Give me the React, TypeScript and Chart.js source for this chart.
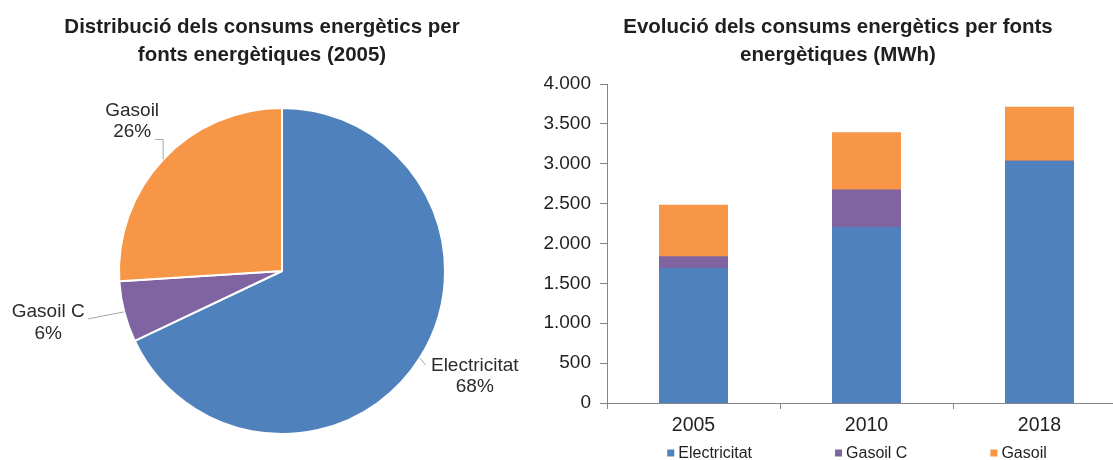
import React, { useEffect, useRef } from 'react';
import { Chart, registerables } from 'chart.js';

Chart.register(...registerables);

// ---------- data ----------
const years = ['2005', '2010', '2018'];
const seriesNames = ['Electricitat', 'Gasoil C', 'Gasoil'];
const electricitat = [1685, 2200, 3030];
const gasoilC = [150, 470, 0];
const gasoil = [645, 720, 680];
const seriesColors = ['#4F81BD', '#8064A2', '#F79646'];
const yMin = 0;
const yMax = 4000;
const yStep = 500;
const pieYearIndex = 0; // pie shows 2005
const pieTitle = ['Distribució dels consums energètics per', 'fonts energètiques (2005)'];
const barTitle = ['Evolució dels consums energètics per fonts', 'energètiques (MWh)'];

const FONT = "'Liberation Sans', Arial, Helvetica, sans-serif";
const AXIS_COLOR = '#868686';
const TEXT_COLOR = '#1f1f1f';

const formatThousands = (v: number) =>
  String(Math.round(v)).replace(/\B(?=(\d{3})+(?!\d))/g, '.');

// ---------- plugins ----------
function makeHeadline(lines: string[], x: number, y: number, lineHeight: number, size: number) {
  return {
    id: 'headline',
    afterDraw(chart: any) {
      const ctx = chart.ctx;
      ctx.save();
      ctx.font = `bold ${size}px ${FONT}`;
      ctx.fillStyle = TEXT_COLOR;
      ctx.textAlign = 'center';
      ctx.textBaseline = 'alphabetic';
      lines.forEach((l, i) => ctx.fillText(l, x, y + i * lineHeight));
      ctx.restore();
    },
  };
}

type Placement = { dx: number; dy: number; leader: number[][] };

function makePieLabels(placements: Placement[], size: number, lineGap: number) {
  return {
    id: 'pieLabels',
    afterDatasetsDraw(chart: any) {
      const ctx = chart.ctx;
      const meta = chart.getDatasetMeta(0);
      const values: number[] = chart.data.datasets[0].data;
      const labels: string[] = chart.data.labels;
      const total = values.reduce((a, b) => a + b, 0);
      ctx.save();
      meta.data.forEach((arc: any, i: number) => {
        const p = placements[i];
        if (!p) return;
        const { x, y, startAngle, endAngle, outerRadius } = arc.getProps(
          ['x', 'y', 'startAngle', 'endAngle', 'outerRadius'],
          true
        );
        const mid = (startAngle + endAngle) / 2;
        const ex = x + Math.cos(mid) * outerRadius;
        const ey = y + Math.sin(mid) * outerRadius;
        ctx.strokeStyle = '#a6a6a6';
        ctx.lineWidth = 1;
        ctx.beginPath();
        ctx.moveTo(ex, ey);
        p.leader.forEach(([lx, ly]) => ctx.lineTo(ex + lx, ey + ly));
        ctx.stroke();
        const cx = ex + p.dx;
        const cy = ey + p.dy;
        ctx.font = `${size}px ${FONT}`;
        ctx.fillStyle = '#2b2b2b';
        ctx.textAlign = 'center';
        ctx.textBaseline = 'middle';
        const pct = Math.round((values[i] / total) * 100) + '%';
        ctx.fillText(labels[i], cx, cy - lineGap / 2);
        ctx.fillText(pct, cx, cy + lineGap / 2);
      });
      ctx.restore();
    },
  };
}

function makeLegend(cx: number, cy: number, size: number, box: number, gap: number, spacing: number) {
  return {
    id: 'customLegend',
    afterDraw(chart: any) {
      const ctx = chart.ctx;
      ctx.save();
      ctx.font = `${size}px ${FONT}`;
      const items = chart.data.datasets.map((d: any) => ({ text: d.label, color: d.backgroundColor }));
      const widths = items.map((it: any) => box + gap + ctx.measureText(it.text).width);
      const total = widths.reduce((a: number, b: number) => a + b, 0) + spacing * (items.length - 1);
      let x = cx - total / 2;
      items.forEach((it: any, i: number) => {
        ctx.fillStyle = it.color;
        ctx.fillRect(x, cy - box / 2, box, box);
        ctx.fillStyle = TEXT_COLOR;
        ctx.textAlign = 'left';
        ctx.textBaseline = 'middle';
        ctx.fillText(it.text, x + box + gap, cy + 1);
        x += widths[i] + spacing;
      });
      ctx.restore();
    },
  };
}

// ---------- components ----------
function PieChart() {
  const ref = useRef<HTMLCanvasElement>(null);
  useEffect(() => {
    if (!ref.current) return;
    const pieValues = [electricitat[pieYearIndex], gasoilC[pieYearIndex], gasoil[pieYearIndex]];
    const chart = new Chart(ref.current, {
      type: 'pie',
      data: {
        labels: seriesNames,
        datasets: [
          {
            data: pieValues,
            backgroundColor: seriesColors,
            borderColor: '#ffffff',
            borderWidth: 2,
          },
        ],
      },
      options: {
        animation: false,
        responsive: false,
        devicePixelRatio: 1,
        layout: { padding: { left: 118, right: 114, top: 107, bottom: 25 } },
        plugins: {
          legend: { display: false },
          title: { display: false },
          tooltip: { enabled: false },
        },
      },
      plugins: [
        makeHeadline(pieTitle, 262, 33, 28, 20.5),
        makePieLabels(
          [
            { dx: 55, dy: 18, leader: [[6, 7]] },
            { dx: -76, dy: 11, leader: [[-36, 7]] },
            { dx: -31, dy: -38, leader: [[0, -20], [-8, -20]] },
          ],
          19,
          21.5
        ),
      ],
    } as any);
    return () => chart.destroy();
  }, []);
  return (
    <canvas
      ref={ref}
      width={560}
      height={460}
      style={{ position: 'absolute', left: 0, top: 0, width: 560, height: 460 }}
    />
  );
}

function BarChart() {
  const ref = useRef<HTMLCanvasElement>(null);
  useEffect(() => {
    if (!ref.current) return;
    const series = [electricitat, gasoilC, gasoil];
    const chart = new Chart(ref.current, {
      type: 'bar',
      data: {
        labels: years,
        datasets: series.map((s, i) => ({
          label: seriesNames[i],
          data: s,
          backgroundColor: seriesColors[i],
          borderWidth: 0,
          inflateAmount: 0.5,
          categoryPercentage: 1,
          barPercentage: 0.393,
        })),
      },
      options: {
        animation: false,
        responsive: false,
        devicePixelRatio: 1,
        layout: { padding: { top: 84, right: 14, bottom: 22, left: 0 } },
        plugins: {
          legend: { display: false },
          title: { display: false },
          tooltip: { enabled: false },
        },
        scales: {
          x: {
            stacked: true,
            grid: {
              display: true,
              drawOnChartArea: false,
              drawTicks: true,
              tickLength: 6,
              color: AXIS_COLOR,
              offset: true,
            },
            border: { display: true, color: AXIS_COLOR, width: 1 },
            ticks: { font: { family: FONT, size: 19.5 }, color: TEXT_COLOR, padding: 5 },
            afterFit: (s: any) => {
              s.height = 35;
            },
          },
          y: {
            stacked: true,
            min: yMin,
            max: yMax,
            ticks: {
              stepSize: yStep,
              font: { family: FONT, size: 19 },
              color: TEXT_COLOR,
              padding: 9,
              callback: (v: any) => formatThousands(Number(v)),
            },
            grid: {
              display: true,
              drawOnChartArea: false,
              drawTicks: true,
              tickLength: 7,
              color: AXIS_COLOR,
            },
            border: { display: true, color: AXIS_COLOR, width: 1 },
            afterFit: (s: any) => {
              s.width = 67;
            },
          },
        },
      },
      plugins: [makeHeadline(barTitle, 298, 33, 28, 20.5), makeLegend(317, 453, 16, 7, 4, 83)],
    } as any);
    return () => chart.destroy();
  }, []);
  return (
    <canvas
      ref={ref}
      width={600}
      height={460}
      style={{ position: 'absolute', left: 540, top: 0, width: 600, height: 460 }}
    />
  );
}

export default function App() {
  return (
    <div
      style={{
        position: 'fixed',
        left: 0,
        top: 0,
        width: 1113,
        height: 460,
        overflow: 'hidden',
        background: '#ffffff',
      }}
    >
      <PieChart />
      <BarChart />
    </div>
  );
}
